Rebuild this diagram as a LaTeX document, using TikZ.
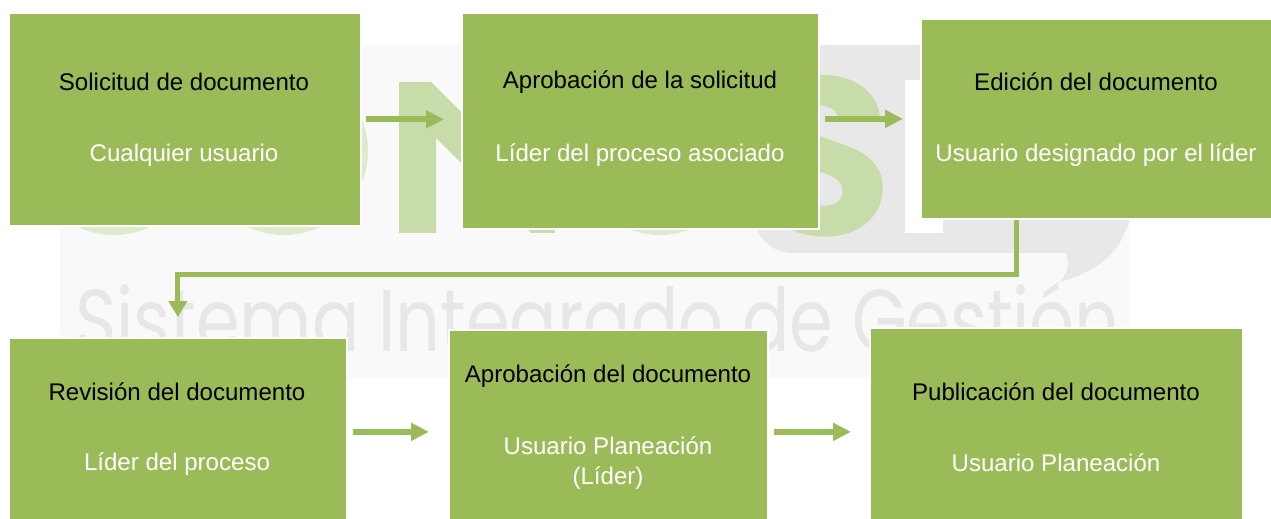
\documentclass[tikz,border=0pt]{standalone}
\usepackage{fontspec}
\usepackage{graphicx}
\setmainfont{Liberation Sans}
\newfontfamily\logofont{Poppins}
\usetikzlibrary{arrows.meta}

\definecolor{boxgreen}{HTML}{9BBB59}
\definecolor{logogreen}{HTML}{C8DCAA}
\definecolor{logogray}{HTML}{E8E8E8}
\definecolor{markgray}{HTML}{E7E7E7}
\definecolor{bglight}{HTML}{F9F9F9}

\newdimen\px \px=0.02cm

\begin{document}
\begin{tikzpicture}[x=0.02cm, y=-0.02cm,
    box/.style={fill=boxgreen, draw=white, line width=1pt, anchor=north west, inner sep=0pt},
    title/.style={font=\fontsize{13.7}{17}\selectfont, text=black, align=center},
    who/.style={font=\fontsize{13.7}{17}\selectfont, text=white, align=center},
    flow/.style={draw=boxgreen, line width=3.4pt, -{Triangle[length=10.2pt, width=9.7pt]}},
    link/.style={draw=boxgreen, line width=2.8pt, -{Triangle[length=9pt, width=10.2pt]}},
  ]
  \useasboundingbox (0,0) rectangle (1271,519);

  % watermark behind the boxes
  \fill[bglight] (60,45) rectangle (1130,378);
  \fill[logogray, rounded corners=40\px] (753,45) rectangle (1130,253);
  \fill[logogray] (1130,200) .. controls (1130,250) and (1100,270) .. (1060,282)
    .. controls (1070,270) and (1070,260) .. (1064,250) -- cycle;
  \fill[white] (905,80) rectangle (943,233);
  \foreach \cx in {114, 284, 660} {
    \fill[logogreen!60!white] (\cx,151) circle[radius=84];
  }
  \fill[logogreen] (399,82) -- (431,82) -- (519,170) -- (519,82) -- (555,82)
    -- (555,233) -- (531,233) -- (436,138) -- (436,233) -- (399,233) -- cycle;
  \node[font=\logofont\bfseries\fontsize{128}{128}\selectfont, text=logogreen, inner sep=0pt]
    (logoS) at (824,156) {S};
  \node[font=\logofont\fontsize{50}{50}\selectfont, text=markgray, anchor=base west, inner sep=0pt]
    (mark) at (75,352) {\scalebox{0.8}[1]{Sistema Integrado de Gestión}};

  % process boxes
  \foreach \x/\y/\w/\h [count=\i] in {8/12/352/213, 461/12/357/216, 920/18/356/200,
      8/337/338/188, 448/329/319/196, 869/327/373/198} {
    \node[box, minimum width=\w\px, minimum height=\h\px] (b\i) at (\x,\y) {};
  }

  % step names
  \foreach \x/\y/\t [count=\i] in {184/82/Solicitud de documento, 640/82/Aprobación de la solicitud,
      1096/82/Edición del documento, 177/392/Revisión del documento,
      608/376/Aprobación del documento, 1056/392/Publicación del documento} {
    \node[title] (t\i) at (\x,\y) {\t};
  }
  % who does it
  \foreach \x/\y/\t [count=\i] in {184/155/Cualquier usuario, 640/155/Líder del proceso asociado,
      1096/155/Usuario designado por el líder, 177/464/Líder del proceso,
      608/463/{Usuario Planeación\\(Líder)}, 1056/463/Usuario Planeación} {
    \node[who] (w\i) at (\x,\y) {\t};
  }

  % arrows
  \draw[flow, shorten <=4\px, shorten >=17\px] (b1.east) -- (b1.east -| b2.west);
  \draw[flow, shorten <=5\px, shorten >=17\px] (b3.west -| b2.east) -- (b3.west);
  \draw[link] ([xshift=-82\px]b3.south) -- ++(0,55) -| ([yshift=20\px]b4.north);
  \draw[flow, shorten <=5\px, shorten >=19\px] (b4.east) -- (b4.east -| b5.west);
  \draw[flow, shorten <=5\px, shorten >=18\px] (b4.east -| b5.east) -- (b4.east -| b6.west);

\end{tikzpicture}
\end{document}
